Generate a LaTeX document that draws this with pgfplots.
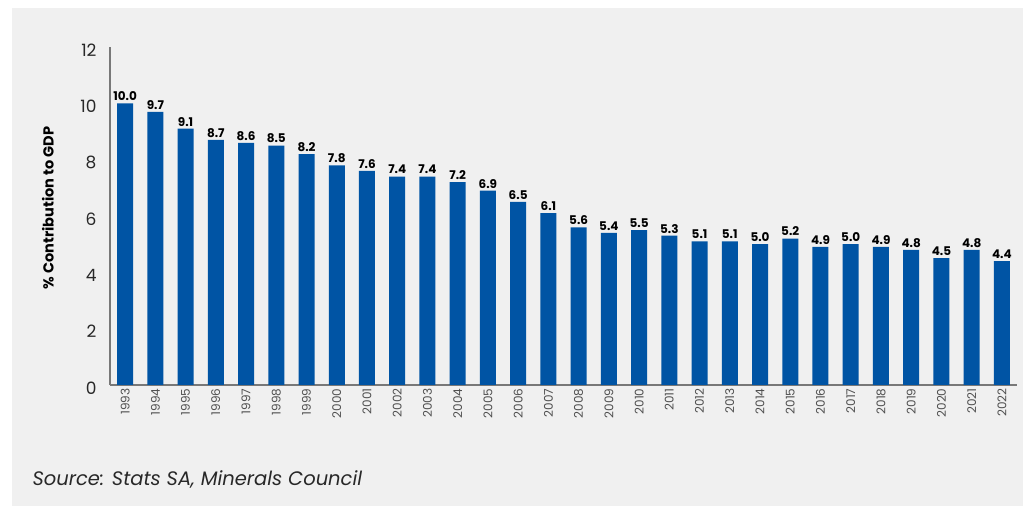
\documentclass[border=0pt]{standalone}
\usepackage{pgfplots}
\pgfplotsset{compat=1.18}
\usepackage{fontspec}
\setmainfont{Poppins}
\definecolor{barBlue}{RGB}{0,84,164}
\definecolor{bgGray}{RGB}{240,240,240}
\definecolor{axisGray}{RGB}{120,120,120}
\definecolor{tickText}{RGB}{40,40,40}
\definecolor{yearText}{RGB}{80,80,80}

\begin{document}
\begin{tikzpicture}[x=1pt,y=1pt]
% page frame: white strip left/top, grey panel
\useasboundingbox (0,0) rectangle (1023,506);
\fill[white] (0,0) rectangle (1023,506);
\fill[bgGray] (12,0) rectangle (1023,498);

\begin{axis}[
    at={(110pt,121pt)}, anchor=south west,
    scale only axis,
    width=907pt, height=338pt,
    ybar, bar width=16pt,
    ymin=0, ymax=12,
    ytick={0,2,...,12},
    xmin=-0.5, xmax=29.5,
    xtick={0,...,29},
    xticklabels={1993,1994,1995,1996,1997,1998,1999,2000,2001,2002,2003,2004,2005,2006,2007,2008,2009,2010,2011,2012,2013,2014,2015,2016,2017,2018,2019,2020,2021,2022},
    x tick label style={rotate=90, anchor=east, font=\fontsize{12}{13}\selectfont, text=yearText},
    y tick label style={font=\fontsize{17}{18}\selectfont, text=tickText, xshift=-10pt, yshift=-3pt},
    /pgf/number format/assume math mode=true,
    major tick length=0pt,
    axis x line*=bottom, axis y line*=left,
    axis line style={axisGray, line width=1.3pt},
    every outer x axis line/.append style={-},
    every outer y axis line/.append style={-},
    nodes near coords={\pgfmathprintnumber[fixed, fixed zerofill, precision=1]{\pgfplotspointmeta}},
    every node near coord/.append style={font=\fontsize{12}{13}\selectfont\bfseries, text=black, /pgf/number format/assume math mode=true, yshift=-1pt},
    clip=false,
]
\addplot[fill=barBlue, draw=none] coordinates {
(0,10.0) (1,9.7) (2,9.1) (3,8.7) (4,8.6) (5,8.5) (6,8.2) (7,7.8) (8,7.6) (9,7.4)
(10,7.4) (11,7.2) (12,6.9) (13,6.5) (14,6.1) (15,5.6) (16,5.4) (17,5.5) (18,5.3) (19,5.1)
(20,5.1) (21,5.0) (22,5.2) (23,4.9) (24,5.0) (25,4.9) (26,4.8) (27,4.5) (28,4.8) (29,4.4)};
\end{axis}

\node[rotate=90, font=\fontsize{14.5}{16}\selectfont\bfseries, text=black] at (48,298) {\% Contribution to GDP};
\node[anchor=base west, font=\fontsize{19.5}{22}\selectfont\itshape, text=tickText] at (29,20) {Source: Stats SA, Minerals Council};
\end{tikzpicture}
\end{document}
